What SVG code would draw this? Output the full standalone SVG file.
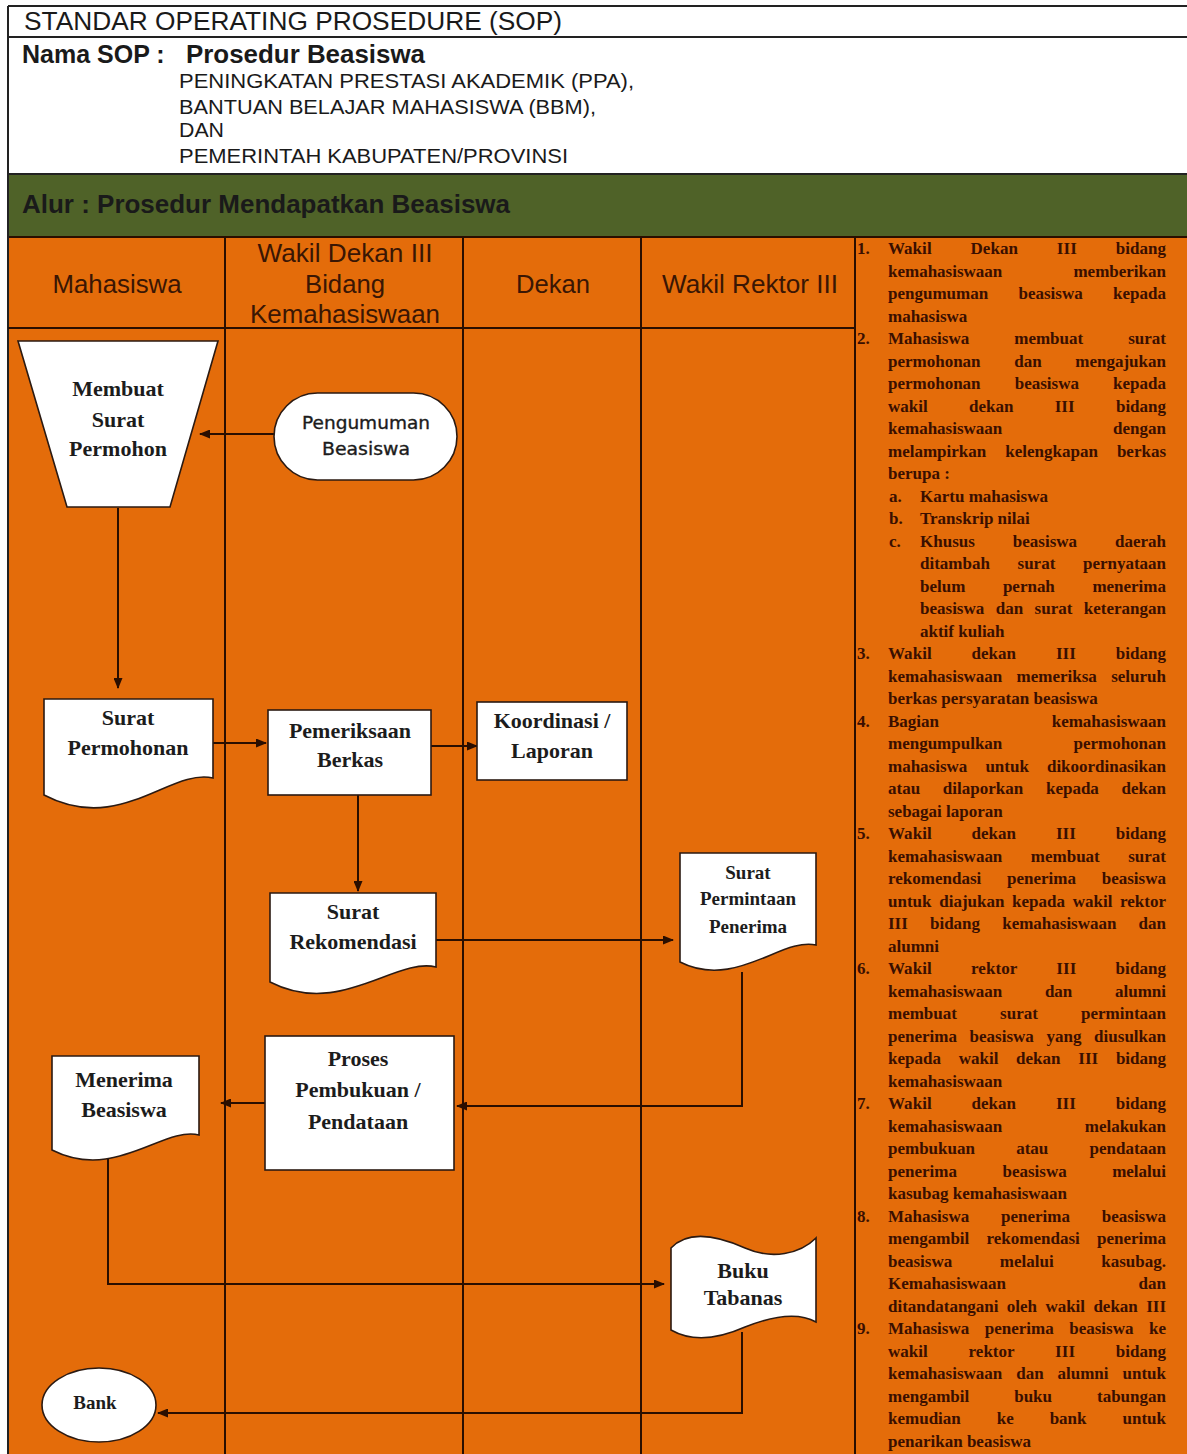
<svg xmlns="http://www.w3.org/2000/svg" width="1187" height="1454" viewBox="0 0 1187 1454">
<style>
.hdr{font-family:"Liberation Sans",Arial,sans-serif;fill:#1a1a1a}
.lane{font-family:"Liberation Sans",Arial,sans-serif;font-size:25px;fill:#3a1604;text-anchor:middle}
.node{fill:#fff;stroke:#2b1a12;stroke-width:1.6}
.nt{font-family:"Liberation Serif","Times New Roman",serif;font-weight:bold;font-size:22px;fill:#1c1c1c;text-anchor:middle}
.nts{font-size:19px}
.st{font-family:"DejaVu Sans",Verdana,sans-serif;font-size:17px;fill:#1c1c1c;stroke:#1c1c1c;stroke-width:0.35;text-anchor:middle}
.ln{stroke:#2a0e00;stroke-width:2;fill:none}
.cn{stroke:#2a0e00;stroke-width:2;fill:none}
.d{font-family:"Liberation Serif","Times New Roman",serif;font-weight:bold;font-size:17px;fill:#3a0f00}
</style>
<defs>
<marker id="ah" markerWidth="11" markerHeight="9" refX="10" refY="4.5" orient="auto" markerUnits="userSpaceOnUse">
<path d="M0,0 L11,4.5 L0,9 Z" fill="#2a0e00"/>
</marker>
</defs>

<!-- header area -->
<rect x="0" y="0" width="1187" height="1454" fill="#fff"/>
<rect x="8" y="175" width="1179" height="62" fill="#4f6228"/>
<rect x="8" y="237" width="1179" height="1217" fill="#e46c0a"/>
<g id="header-lines" stroke="#222" stroke-width="2">
<line x1="8" y1="6" x2="1187" y2="6"/>
<line x1="8" y1="37" x2="1187" y2="37"/>
<line x1="8" y1="174" x2="1187" y2="174"/>
<line x1="8" y1="237" x2="1187" y2="237" stroke="#2a0e00"/>
<line x1="8" y1="6" x2="8" y2="1454"/>
</g>
<g id="header-text">
<text class="hdr" x="24" y="30" font-size="26" textLength="538" lengthAdjust="spacingAndGlyphs">STANDAR OPERATING PROSEDURE (SOP)</text>
<text class="hdr" x="22" y="63" font-size="25" font-weight="bold">Nama SOP :</text>
<text class="hdr" x="186" y="63" font-size="25" font-weight="bold" textLength="239" lengthAdjust="spacingAndGlyphs">Prosedur Beasiswa</text>
<text class="hdr" x="179" y="88" font-size="20" textLength="455" lengthAdjust="spacingAndGlyphs">PENINGKATAN PRESTASI AKADEMIK (PPA),</text>
<text class="hdr" x="179" y="114" font-size="20" textLength="417" lengthAdjust="spacingAndGlyphs">BANTUAN BELAJAR MAHASISWA (BBM),</text>
<text class="hdr" x="179" y="137" font-size="20" textLength="45" lengthAdjust="spacingAndGlyphs">DAN</text>
<text class="hdr" x="179" y="163" font-size="20" textLength="389" lengthAdjust="spacingAndGlyphs">PEMERINTAH KABUPATEN/PROVINSI</text>
<text class="hdr" x="22" y="213" font-size="25" font-weight="bold" fill="#1b1d10" textLength="488" lengthAdjust="spacingAndGlyphs">Alur : Prosedur Mendapatkan Beasiswa</text>
</g>

<!-- swimlanes -->
<g id="lanes">
<line class="ln" x1="8" y1="328" x2="855" y2="328"/>
<line class="ln" x1="225" y1="237" x2="225" y2="1454"/>
<line class="ln" x1="463" y1="237" x2="463" y2="1454"/>
<line class="ln" x1="641" y1="237" x2="641" y2="1454"/>
<line class="ln" x1="855" y1="237" x2="855" y2="1454"/>
<text class="lane" x="117" y="293" textLength="129" lengthAdjust="spacingAndGlyphs">Mahasiswa</text>
<text class="lane" x="345" y="262" textLength="175" lengthAdjust="spacingAndGlyphs">Wakil Dekan III</text>
<text class="lane" x="345" y="293" textLength="80" lengthAdjust="spacingAndGlyphs">Bidang</text>
<text class="lane" x="345" y="323" textLength="190" lengthAdjust="spacingAndGlyphs">Kemahasiswaan</text>
<text class="lane" x="553" y="293" textLength="74" lengthAdjust="spacingAndGlyphs">Dekan</text>
<text class="lane" x="750" y="293" textLength="176" lengthAdjust="spacingAndGlyphs">Wakil Rektor III</text>
</g>

<!-- connectors -->
<g id="connectors">
<line class="cn" x1="274" y1="434" x2="200" y2="434" marker-end="url(#ah)"/>
<line class="cn" x1="118" y1="508" x2="118" y2="688" marker-end="url(#ah)"/>
<line class="cn" x1="213" y1="743" x2="266" y2="743" marker-end="url(#ah)"/>
<line class="cn" x1="431" y1="746" x2="477" y2="746" marker-end="url(#ah)"/>
<line class="cn" x1="358" y1="795" x2="358" y2="891" marker-end="url(#ah)"/>
<line class="cn" x1="436" y1="940" x2="673" y2="940" marker-end="url(#ah)"/>
<polyline class="cn" points="742,972 742,1106 457,1106" marker-end="url(#ah)"/>
<line class="cn" x1="265" y1="1103" x2="221" y2="1103" marker-end="url(#ah)"/>
<polyline class="cn" points="108,1158 108,1284 664,1284" marker-end="url(#ah)"/>
<polyline class="cn" points="742,1332 742,1413 158,1413" marker-end="url(#ah)"/>
</g>

<!-- nodes -->
<g id="membuat-surat">
<polygon class="node" points="18,341 218,341 170,507 67,507"/>
<text class="nt" x="118" y="396">Membuat</text>
<text class="nt" x="118" y="427">Surat</text>
<text class="nt" x="118" y="456">Permohon</text>
</g>
<g id="pengumuman">
<rect class="node" x="274" y="393" width="183" height="87" rx="43.5"/>
<text class="st" x="366" y="429" textLength="128" lengthAdjust="spacingAndGlyphs">Pengumuman</text>
<text class="st" x="366" y="455" textLength="88" lengthAdjust="spacingAndGlyphs">Beasiswa</text>
</g>
<g id="surat-permohonan">
<path class="node" d="M44,699 H213 V778 C170,768 120,835 44,795 Z"/>
<text class="nt" x="128" y="725">Surat</text>
<text class="nt" x="128" y="755">Permohonan</text>
</g>
<g id="pemeriksaan">
<rect class="node" x="268" y="710" width="163" height="85"/>
<text class="nt" x="350" y="738">Pemeriksaan</text>
<text class="nt" x="350" y="767">Berkas</text>
</g>
<g id="koordinasi">
<rect class="node" x="477" y="702" width="150" height="78"/>
<text class="nt" x="552" y="728">Koordinasi /</text>
<text class="nt" x="552" y="758">Laporan</text>
</g>
<g id="surat-rekomendasi">
<path class="node" d="M270,893 H436 V967 C395,957 340,1018 270,982 Z"/>
<text class="nt" x="353" y="919">Surat</text>
<text class="nt" x="353" y="949">Rekomendasi</text>
</g>
<g id="surat-permintaan">
<path class="node" d="M680,853 H816 V945 C782,937 735,990 680,962 Z"/>
<text class="nt nts" x="748" y="879">Surat</text>
<text class="nt nts" x="748" y="905">Permintaan</text>
<text class="nt nts" x="748" y="933">Penerima</text>
</g>
<g id="proses">
<rect class="node" x="265" y="1036" width="189" height="134"/>
<text class="nt" x="358" y="1066">Proses</text>
<text class="nt" x="358" y="1097">Pembukuan /</text>
<text class="nt" x="358" y="1129">Pendataan</text>
</g>
<g id="menerima">
<path class="node" d="M52,1056 H199 V1135 C163,1126 115,1182 52,1150 Z"/>
<text class="nt" x="124" y="1087">Menerima</text>
<text class="nt" x="124" y="1117">Beasiswa</text>
</g>
<g id="buku-tabanas">
<path class="node" d="M671,1248 C688,1230 718,1236 745,1248 C772,1260 800,1254 816,1238 V1322 C800,1313 775,1315 745,1327 C718,1339 692,1342 671,1330 Z"/>
<text class="nt" x="743" y="1278">Buku</text>
<text class="nt" x="743" y="1305">Tabanas</text>
</g>
<g id="bank">
<ellipse class="node" cx="99" cy="1405" rx="57" ry="37"/>
<text class="nt nts" x="95" y="1409">Bank</text>
</g>

<!-- description column -->
<g id="description">
<text class="d" x="857" y="254">1.</text>
<text class="d" x="888" y="254" word-spacing="34.6" textLength="278">Wakil Dekan III bidang</text>
<text class="d" x="888" y="276.5" word-spacing="66.9" textLength="278">kemahasiswaan memberikan</text>
<text class="d" x="888" y="299" word-spacing="26.1" textLength="278">pengumuman beasiswa kepada</text>
<text class="d" x="888" y="321.5">mahasiswa</text>
<text class="d" x="857" y="344">2.</text>
<text class="d" x="888" y="344" word-spacing="40.8" textLength="278">Mahasiswa membuat surat</text>
<text class="d" x="888" y="366.5" word-spacing="29.4" textLength="278">permohonan dan mengajukan</text>
<text class="d" x="888" y="389" word-spacing="29.9" textLength="278">permohonan beasiswa kepada</text>
<text class="d" x="888" y="411.5" word-spacing="37.1" textLength="278">wakil dekan III bidang</text>
<text class="d" x="888" y="434" word-spacing="106.6" textLength="278">kemahasiswaan dengan</text>
<text class="d" x="888" y="456.5" word-spacing="14.8" textLength="278">melampirkan kelengkapan berkas</text>
<text class="d" x="888" y="479">berupa :</text>
<text class="d" x="889" y="501.5">a.</text>
<text class="d" x="920" y="501.5">Kartu mahasiswa</text>
<text class="d" x="889" y="524">b.</text>
<text class="d" x="920" y="524">Transkrip nilai</text>
<text class="d" x="889" y="546.5">c.</text>
<text class="d" x="920" y="546.5" word-spacing="33.7" textLength="246">Khusus beasiswa daerah</text>
<text class="d" x="920" y="569" word-spacing="23.4" textLength="246">ditambah surat pernyataan</text>
<text class="d" x="920" y="591.5" word-spacing="33.3" textLength="246">belum pernah menerima</text>
<text class="d" x="920" y="614" word-spacing="7.2" textLength="246">beasiswa dan surat keterangan</text>
<text class="d" x="920" y="636.5">aktif kuliah</text>
<text class="d" x="857" y="659">3.</text>
<text class="d" x="888" y="659" word-spacing="35.5" textLength="278">Wakil dekan III bidang</text>
<text class="d" x="888" y="681.5" word-spacing="10.1" textLength="278">kemahasiswaan memeriksa seluruh</text>
<text class="d" x="888" y="704">berkas persyaratan beasiswa</text>
<text class="d" x="857" y="726.5">4.</text>
<text class="d" x="888" y="726.5" word-spacing="108.4" textLength="278">Bagian kemahasiswaan</text>
<text class="d" x="888" y="749" word-spacing="66.9" textLength="278">mengumpulkan permohonan</text>
<text class="d" x="888" y="771.5" word-spacing="13.8" textLength="278">mahasiswa untuk dikoordinasikan</text>
<text class="d" x="888" y="794" word-spacing="18.5" textLength="278">atau dilaporkan kepada dekan</text>
<text class="d" x="888" y="816.5">sebagai laporan</text>
<text class="d" x="857" y="839">5.</text>
<text class="d" x="888" y="839" word-spacing="35.5" textLength="278">Wakil dekan III bidang</text>
<text class="d" x="888" y="861.5" word-spacing="24.2" textLength="278">kemahasiswaan membuat surat</text>
<text class="d" x="888" y="884" word-spacing="21.4" textLength="278">rekomendasi penerima beasiswa</text>
<text class="d" x="888" y="906.5" word-spacing="3.4" textLength="278">untuk diajukan kepada wakil rektor</text>
<text class="d" x="888" y="929" word-spacing="17.9" textLength="278">III bidang kemahasiswaan dan</text>
<text class="d" x="888" y="951.5">alumni</text>
<text class="d" x="857" y="974">6.</text>
<text class="d" x="888" y="974" word-spacing="34.9" textLength="278">Wakil rektor III bidang</text>
<text class="d" x="888" y="996.5" word-spacing="38.4" textLength="278">kemahasiswaan dan alumni</text>
<text class="d" x="888" y="1019" word-spacing="38.9" textLength="278">membuat surat permintaan</text>
<text class="d" x="888" y="1041.5" word-spacing="8.4" textLength="278">penerima beasiswa yang diusulkan</text>
<text class="d" x="888" y="1064" word-spacing="13.5" textLength="278">kepada wakil dekan III bidang</text>
<text class="d" x="888" y="1086.5">kemahasiswaan</text>
<text class="d" x="857" y="1109">7.</text>
<text class="d" x="888" y="1109" word-spacing="35.5" textLength="278">Wakil dekan III bidang</text>
<text class="d" x="888" y="1131.5" word-spacing="78.2" textLength="278">kemahasiswaan melakukan</text>
<text class="d" x="888" y="1154" word-spacing="37" textLength="278">pembukuan atau pendataan</text>
<text class="d" x="888" y="1176.5" word-spacing="41.2" textLength="278">penerima beasiswa melalui</text>
<text class="d" x="888" y="1199">kasubag kemahasiswaan</text>
<text class="d" x="857" y="1221.5">8.</text>
<text class="d" x="888" y="1221.5" word-spacing="27.6" textLength="278">Mahasiswa penerima beasiswa</text>
<text class="d" x="888" y="1244" word-spacing="12.9" textLength="278">mengambil rekomendasi penerima</text>
<text class="d" x="888" y="1266.5" word-spacing="43.4" textLength="278">beasiswa melalui kasubag.</text>
<text class="d" x="888" y="1289" word-spacing="128.3" textLength="278">Kemahasiswaan dan</text>
<text class="d" x="888" y="1311.5" word-spacing="4.1" textLength="278">ditandatangani oleh wakil dekan III</text>
<text class="d" x="857" y="1334">9.</text>
<text class="d" x="888" y="1334" word-spacing="11.3" textLength="278">Mahasiswa penerima beasiswa ke</text>
<text class="d" x="888" y="1356.5" word-spacing="36.5" textLength="278">wakil rektor III bidang</text>
<text class="d" x="888" y="1379" word-spacing="9.7" textLength="278">kemahasiswaan dan alumni untuk</text>
<text class="d" x="888" y="1401.5" word-spacing="40.7" textLength="278">mengambil buku tabungan</text>
<text class="d" x="888" y="1424" word-spacing="31.7" textLength="278">kemudian ke bank untuk</text>
<text class="d" x="888" y="1446.5">penarikan beasiswa</text>
</g>
</svg>
